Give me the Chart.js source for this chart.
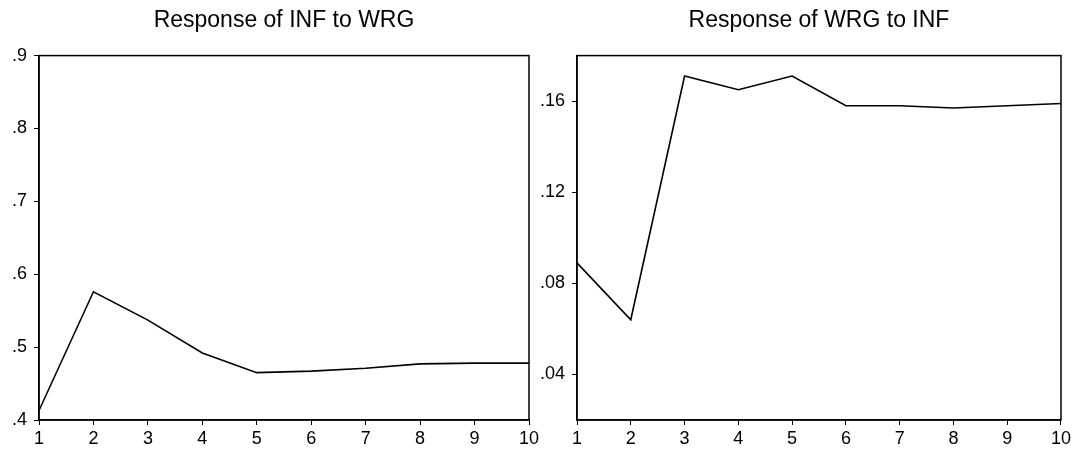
<!DOCTYPE html>
<html>
<head>
<meta charset="utf-8">
<script src="https://cdn.jsdelivr.net/npm/chart.js@4/dist/chart.umd.min.js"></script>
<style>
    body { margin: 0; background: #fff; }
    #wrap { position: relative; width: 1074px; height: 455px; }
    canvas { position: absolute; top: 0; }
    #leftChart { left: 0; }
    #rightChart { left: 520px; }
</style>
</head>
<body>
<div id="wrap">
    <canvas id="leftChart" width="560" height="455"></canvas>
    <canvas id="rightChart" width="554" height="455"></canvas>
</div>
<script>
// ========================================
// Data
// ========================================
const periods = ['1', '2', '3', '4', '5', '6', '7', '8', '9', '10'];

const infToWrg = [0.413, 0.576, 0.537, 0.492, 0.465, 0.467, 0.471, 0.477, 0.478, 0.478];
const wrgToInf = [0.089, 0.064, 0.171, 0.165, 0.171, 0.158, 0.158, 0.157, 0.158, 0.159];

const leftTicks = [0.4, 0.5, 0.6, 0.7, 0.8, 0.9];
const rightTicks = [0.04, 0.08, 0.12, 0.16];

const FONT = '"Liberation Sans", Arial, sans-serif';

// box round the plot area (Chart.js only draws the left/bottom borders)
const framePlugin = {
    id: 'frame',
    afterDraw(chart) {
        const { ctx, chartArea: a } = chart;
        ctx.save();
        ctx.strokeStyle = '#000';
        ctx.lineWidth = 1.5;
        ctx.strokeRect(a.left, a.top, a.right - a.left, a.bottom - a.top);
        ctx.restore();
    }
};

function dropZero(v, digits) {
    return v.toFixed(digits).replace(/^0/, '');
}

function makeChart(id, title, values, yMin, yMax, ticks, digits, yWidth, padRight) {
    return new Chart(document.getElementById(id), {
        type: 'line',
        data: {
            labels: periods,
            datasets: [{
                data: values,
                borderColor: '#000',
                borderWidth: 1.6,
                pointRadius: 0,
                tension: 0,
                fill: false
            }]
        },
        options: {
            responsive: false,
            animation: false,
            devicePixelRatio: 1,
            layout: { padding: { top: 0, right: padRight, bottom: 0, left: 0 } },
            plugins: {
                legend: { display: false },
                tooltip: { enabled: false },
                title: {
                    display: true,
                    text: title,
                    fullSize: false,
                    color: '#000',
                    font: { family: FONT, size: 23, weight: 'normal' },
                    padding: { top: 7, bottom: 21 }
                }
            },
            scales: {
                x: {
                    offset: false,
                    grid: { display: true, drawOnChartArea: false, drawTicks: true, tickLength: 5, color: '#000' },
                    border: { display: true, color: '#000', width: 1.5 },
                    ticks: {
                        color: '#000',
                        padding: 3,
                        maxRotation: 0,
                        autoSkip: false,
                        font: { family: FONT, size: 18 }
                    },
                    afterFit(scale) { scale.height = 35; }
                },
                y: {
                    min: yMin,
                    max: yMax,
                    grid: { display: true, drawOnChartArea: false, drawTicks: true, tickLength: 5, color: '#000' },
                    border: { display: true, color: '#000', width: 1.5 },
                    ticks: {
                        color: '#000',
                        padding: 7,
                        font: { family: FONT, size: 18 },
                        callback: v => dropZero(v, digits)
                    },
                    afterBuildTicks(axis) {
                        axis.ticks = ticks.map(v => ({ value: v }));
                    },
                    afterFit(scale) { scale.width = yWidth; }
                }
            }
        },
        plugins: [framePlugin]
    });
}

makeChart('leftChart', 'Response of INF to WRG', infToWrg, 0.4, 0.9, leftTicks, 1, 39, 31);
makeChart('rightChart', 'Response of WRG to INF', wrgToInf, 0.02, 0.18, rightTicks, 2, 57, 13);
</script>
</body>
</html>
